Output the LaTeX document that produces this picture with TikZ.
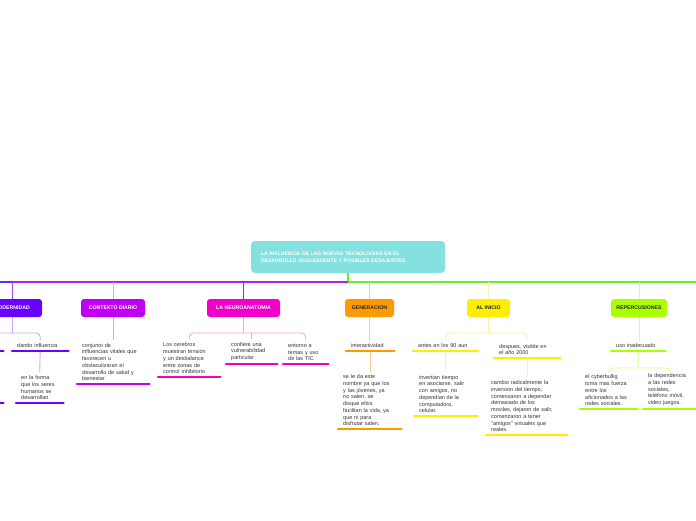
\documentclass[tikz,border=0pt]{standalone}
\usepackage{fontspec}
\newfontfamily\lf{Liberation Sans}
\newcommand\leaffont{\lf\fontsize{5.5}{6.7}\selectfont}
\newcommand\topicfont{\lf\bfseries\fontsize{5.2}{6}\selectfont}
\newcommand\rootfont{\lf\bfseries\fontsize{5.1}{7}\selectfont}
\definecolor{rootc}{HTML}{84E1E0}
\definecolor{textc}{HTML}{333333}
\definecolor{modc}{HTML}{6A00FF}
\definecolor{modL}{HTML}{C9A6F7}
\definecolor{modV}{HTML}{9A50F0}
\definecolor{ctxc}{HTML}{C000F0}
\definecolor{ctxL}{HTML}{E6A0F5}
\definecolor{neuc}{HTML}{F000C8}
\definecolor{neuL}{HTML}{F7A0E4}
\definecolor{genc}{HTML}{FF9900}
\definecolor{genL}{HTML}{FFCC88}
\definecolor{inic}{HTML}{FFEE00}
\definecolor{iniL}{HTML}{FFF0A0}
\definecolor{repc}{HTML}{AAFF00}
\definecolor{repL}{HTML}{D4FF88}
\definecolor{mainL}{HTML}{B020E8}
\definecolor{mainB}{HTML}{5A30FF}
\definecolor{mainR}{HTML}{66EE33}
\tikzset{
  leaf/.style={anchor=south west, inner xsep=5pt, inner ysep=3pt, align=left,
    font=\leaffont, text=textc, text width=#1},
  ul/.style={draw=#1, line width=2.8pt, line cap=round},
  cn/.style={draw=#1, line width=0.9pt},
  mainline/.style={draw=#1, line width=1.2pt},
  topicbox/.style={fill=#1, rounded corners=3pt, minimum height=18pt, inner sep=0pt,
    font=\topicfont},
  rootbox/.style={fill=rootc, rounded corners=4pt, minimum width=194pt, minimum height=32pt,
    text width=174pt, inner xsep=10pt, align=left, font=\rootfont, text=white}
}
\begin{document}
\begin{tikzpicture}[x=1pt,y=-1pt]
\useasboundingbox (0,0) rectangle (696,520);

% root
\node[rootbox] (root) at (348,257) {LA INFLUENCIA DE LAS NUEVAS TECNOLOGIAS EN EL\\DESARROLLO ADOLESCENTE Y POSIBLES DESAJUSTES};

% topics
\node[topicbox=modc, text=white, minimum width=60pt] (mod) at (12,308) {MODERNIDAD};
\node[topicbox=ctxc, text=white, minimum width=64pt] (ctx) at (113,308) {CONTEXTO DIARIO};
\node[topicbox=neuc, text=white, minimum width=73pt] (neu) at (243.5,308) {LA NEUROANATOMIA};
\node[topicbox=genc, text=black!85, minimum width=49pt] (gen) at (369.5,308) {GENERACION};
\node[topicbox=inic, text=black!85, minimum width=43pt] (ini) at (488.5,308) {AL INICIO};
\node[topicbox=repc, text=black!85, minimum width=56pt] (rep) at (639,308) {REPERCUSIONES};

% main lines
\coordinate (hub) at (348,282);
\coordinate (lEnd) at (-5,282);
\coordinate (rEnd) at (700,282);
\draw[mainline=mainR] (root.south) -- (hub) -- (rEnd);
\draw[mainline=mainL] (hub) -- (mod.north |- hub);
\draw[mainline=mainB] (mod.north |- hub) -- (lEnd);
\draw[cn=modV] (mod.north |- hub) -- (mod.north);
\draw[cn=ctxL] (ctx.north |- hub) -- (ctx.north);
\draw[cn=neuc] (neu.north |- hub) -- (neu.north);
\draw[cn=genL] (gen.north |- hub) -- (gen.north);
\draw[cn=iniL] (ini.north |- hub) -- (ini.north);
\draw[cn=repL] (rep.north |- hub) -- (rep.north);

% MODERNIDAD
\node[leaf=33pt, minimum height=12pt] (m0) at (-40,351) {};
\node[leaf=46pt] (m1) at (12,351) {dando influencia};
\node[leaf=33pt, minimum height=30pt] (m0b) at (-40,403) {};
\node[leaf=37pt] (m1b) at (16,403) {en la forma\\que los seres\\humanos se\\desarrollan};
\coordinate (mb) at (12,333);
\draw[cn=modL] (mod.south) -- (mb);
\draw[cn=modL, rounded corners=4pt] (m0.north) |- (mb) -| (m1.north);
\draw[cn=modL] (m1.south) -- (m1b.north);
\draw[cn=modL] (m0.south) -- (m0b.north);
\foreach \n in {m0,m1,m0b,m1b} \draw[ul=modc] (\n.south west) -- (\n.south east);

% CONTEXTO DIARIO
\node[leaf=62pt] (c1) at (77,384) {conjunto de\\influencias vitales que\\favorecen u\\obstaculizaran el\\desarrollo de salud y\\bienestar};
\draw[cn=ctxL] (ctx.south) -- (ctx.south |- c1.north);
\draw[ul=ctxc] (c1.south west) -- (c1.south east);

% LA NEUROANATOMIA
\node[leaf=52pt] (n1) at (158,377) {Los cerebros\\muestran tensión\\y un desbalance\\entre zonas de\\control inhibitorio};
\node[leaf=41pt] (n2) at (226,364) {confiere una\\vulnerabilidad\\particular};
\node[leaf=35pt] (n3) at (283,364) {entorno a\\temas y uso\\de las TIC};
\coordinate (nb) at (243.5,333);
\draw[cn=neuL] (neu.south) -- (nb);
\draw[cn=neuL, rounded corners=4pt] (n1.north) |- (nb) -| (n3.north);
\draw[cn=neuL] (n2.north |- nb) -- (n2.north);
\foreach \n in {n1,n2,n3} \draw[ul=neuc] (\n.south west) -- (\n.south east);

% GENERACION
\node[leaf=38pt] (g1) at (346,351) {interactividad};
\node[leaf=53pt] (g2) at (338,429) {se le da este\\nombre ya que los\\y las jóvenes, ya\\no salen, se\\disque ellos\\facilitan la vida, ya\\que ni para\\disfrutar salen.};
\draw[cn=genL] (gen.south) -- (gen.south |- g1.north);
\draw[cn=genL] (g1.south) -- (g1.south |- g2.north);
\foreach \n in {g1,g2} \draw[ul=genc] (\n.south west) -- (\n.south east);

% AL INICIO
\node[leaf=55pt] (a1) at (413,351) {antes en los 90 aun};
\node[leaf=56pt] (a2) at (494,358) {despues, visible en\\el año 2000};
\node[leaf=53pt] (a1b) at (414,416) {invertian tiempo\\en asociarse, salir\\con amigos, no\\dependian de la\\computadora,\\celular.};
\node[leaf=71pt] (a2b) at (486,435) {cambio radicalmente la\\inversion del tiempo,\\comenzaron a depender\\demasiado de los\\moviles, dejaron de salir,\\comenzaron a tener\\"amigos" virtuales que\\reales.};
\coordinate (ab) at (488.5,333);
\draw[cn=iniL] (ini.south) -- (ab);
\draw[cn=iniL, rounded corners=4pt] (a1.north) |- (ab) -| (a2.north);
\draw[cn=iniL] (a1.south) -- (a1.south |- a1b.north);
\draw[cn=iniL] (a2.south) -- (a2.south |- a2b.north);
\foreach \n in {a1,a2,a1b,a2b} \draw[ul=inic] (\n.south west) -- (\n.south east);

% REPERCUSIONES
\node[leaf=44pt] (r1) at (611,351) {uso inadecuado};
\node[leaf=47pt] (r2) at (580,409) {el cyberbullig\\toma mas fuerza\\entre los\\aficionados a las\\redes sociales.};
\node[leaf=45pt] (r3) at (643,409) {la dependencia\\a las redes\\sociales,\\teléfono móvil,\\video juegos.};
\coordinate (rb) at (638,368);
\draw[cn=repL] (rep.south) -- (rep.south |- r1.north);
\draw[cn=repL] (r1.south) -- (rb);
\draw[cn=repL, rounded corners=4pt] (r2.north) |- (rb) -| (r3.north);
\foreach \n in {r1,r2,r3} \draw[ul=repc] (\n.south west) -- (\n.south east);
\end{tikzpicture}
\end{document}
